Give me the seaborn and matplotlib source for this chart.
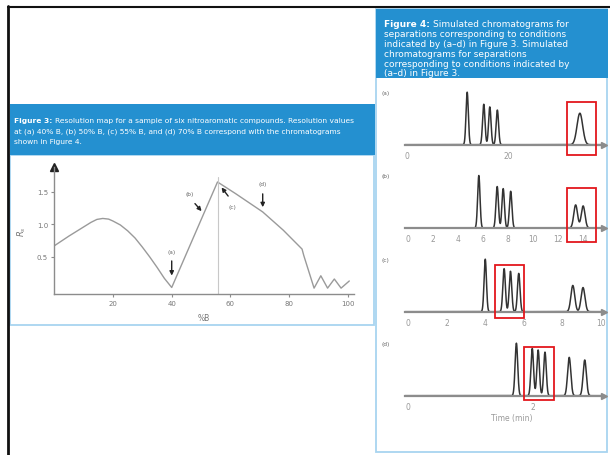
import numpy as np
import pandas as pd
import matplotlib
matplotlib.use('Agg')
import matplotlib.pyplot as plt
import seaborn as sns
from matplotlib.patches import Rectangle
from matplotlib.lines import Line2D

# Figure 3 - resolution map (Rs against %B)
pct_b = [0, 5, 10, 12.5, 14.5, 16.5, 18.5, 20, 22.5, 25, 27.5, 30, 32.5, 35, 37.5, 40,
         55.6, 61.8, 71, 78, 84.4, 85, 88.5, 90.8, 93.1, 95.4, 97.7, 100.5]
rs = [0.67, 0.82, 0.96, 1.03, 1.075, 1.09, 1.08, 1.05, 0.99, 0.9, 0.79, 0.65, 0.5, 0.34, 0.17, 0.03,
      1.65, 1.47, 1.19, 0.91, 0.62, 0.52, 0.02, 0.21, 0.02, 0.16, 0.02, 0.13]
rs_ticks = [0.5, 1.0, 1.5]
pct_ticks = [20, 40, 60, 80, 100]
marked_labels = ['(a)', '(b)', '(c)', '(d)']
optimum_b = 55.6

# Figure 4 - simulated chromatograms: retention time, relative height, peak width (sigma)
chrom_names = ['(a)', '(b)', '(c)', '(d)']
peak_times = [
    [11.9, 15.2, 16.4, 17.9, 34.3],
    [5.65, 7.12, 7.6, 8.2, 13.4, 14.0],
    [4.0, 4.98, 5.31, 5.74, 8.55, 9.08],
    [1.74, 1.995, 2.09, 2.2, 2.59, 2.84],
]
peak_heights = [
    [1.0, 0.77, 0.72, 0.66, 0.60],
    [1.0, 0.79, 0.75, 0.70, 0.44, 0.42],
    [1.0, 0.82, 0.77, 0.73, 0.50, 0.46],
    [1.0, 0.90, 0.87, 0.83, 0.73, 0.68],
]
peak_sigmas = [
    [0.23, 0.24, 0.24, 0.24, 0.56],
    [0.095, 0.1, 0.1, 0.1, 0.15, 0.15],
    [0.062, 0.066, 0.066, 0.066, 0.1, 0.1],
    [0.021, 0.021, 0.021, 0.021, 0.026, 0.026],
]
chrom_ticks = [[0, 10, 20, 30], list(range(0, 16)), list(range(0, 11)), [0, 1, 2, 3]]
chrom_ticklabels = [['0', '', '20', ''],
                    [str(t) if t % 2 == 0 else '' for t in range(0, 16)],
                    [str(t) if t % 2 == 0 else '' for t in range(0, 11)],
                    ['0', '', '2', '']]

fig3_lines = [('Figure 3:', 'Resolution map for a sample of six nitroaromatic compounds. Resolution values'),
              ('', 'at (a) 40% B, (b) 50% B, (c) 55% B, and (d) 70% B correspond with the chromatograms'),
              ('', 'shown in Figure 4.')]
fig4_lines = [('Figure 4:', 'Simulated chromatograms for'),
              ('', 'separations corresponding to conditions'),
              ('', 'indicated by (a\u2013d) in Figure 3. Simulated'),
              ('', 'chromatograms for separations'),
              ('', 'corresponding to conditions indicated by'),
              ('', '(a\u2013d) in Figure 3.')]

sns.set_style('white')
plt.rcParams['font.family'] = ['DejaVu Sans']

W, H = 610, 456
fig = plt.figure(figsize=(W / 100, H / 100), dpi=100)
renderer = fig.canvas.get_renderer()


def box(x0, y0, x1, y1):
    return [x0 / W, 1 - y1 / H, (x1 - x0) / W, (y1 - y0) / H]


def rect(x0, y0, x1, y1, **kw):
    r = Rectangle((x0 / W, 1 - y1 / H), (x1 - x0) / W, (y1 - y0) / H,
                  transform=fig.transFigure, zorder=-5, **kw)
    fig.add_artist(r)


def header_line(x, y, bold, rest, size):
    xr = x
    if bold:
        t = fig.text(x / W, 1 - y / H, bold, color='white', fontsize=size, fontweight='bold', va='center')
        xr = t.get_window_extent(renderer).x1 + size * 0.5
    fig.text(xr / W, 1 - y / H, rest, color='white', fontsize=size, va='center')


blue = '#2490d0'
light = '#a8d4f0'

# page frame and panels
rect(10, 156, 374, 326, facecolor='white', edgecolor=light, lw=1.3)
rect(10, 105, 375, 156, facecolor=blue, edgecolor='none')
rect(376, 10, 607, 453, facecolor='white', edgecolor=light, lw=1.3)
rect(376, 10, 608, 79, facecolor=blue, edgecolor='none')
fig.add_artist(Line2D([8 / W, 1], [1 - 7.5 / H] * 2, color='#111', lw=1.5, transform=fig.transFigure))
fig.add_artist(Line2D([8.3 / W] * 2, [0, 1 - 7 / H], color='#111', lw=2, transform=fig.transFigure))

for i, (bold, rest) in enumerate(fig3_lines):
    header_line(14, 121 + i * 10.3, bold, rest, 5.4)
for i, (bold, rest) in enumerate(fig4_lines):
    header_line(384, 24.5 + i * 9.9, bold, rest, 6.5)

# ---- Figure 3 resolution map ----
ax = fig.add_axes(box(54.3, 168, 353.7, 295))
ax.set_facecolor('none')
res = pd.DataFrame({'pct': pct_b, 'rs': rs})
sns.lineplot(data=res, x='pct', y='rs', ax=ax, color='#9a9a9a', lw=1.0, sort=False, estimator=None)
ax.set_xlim(0, 102)
ax.set_ylim(-0.07, 1.88)
ax.axvline(optimum_b, ymin=0, ymax=(1.72 + 0.07) / 1.95, color='#c8c8c8', lw=0.8)
for s in ['top', 'right']:
    ax.spines[s].set_visible(False)
for s in ['left', 'bottom']:
    ax.spines[s].set_color('#8c8c8c')
    ax.spines[s].set_linewidth(1.0)
ax.plot(0, 1, marker='^', color='#222', markersize=6, transform=ax.transAxes, clip_on=False)
ax.set_xticks(pct_ticks)
ax.set_yticks(rs_ticks)
ax.set_yticklabels(['0.5', '1.0', '1.5'])
ax.tick_params(axis='both', colors='#8c8c8c', labelcolor='#777', labelsize=5, length=2.5, width=0.8,
               direction='out', left=True, bottom=True, pad=2)
ax.set_xlabel('%B', fontsize=5.5, color='#777', labelpad=5)
ax.set_ylabel('$R_s$', fontsize=6, color='#777', labelpad=6)

arrows = [((40, 0.48), (40, 0.17), (40, 0.58)),
          ((47.3, 1.35), (50.8, 1.17), (46.1, 1.48)),
          ((59.8, 1.40), (56.4, 1.60), (60.6, 1.28)),
          ((71, 1.51), (71, 1.22), (71, 1.62))]
for lab, (tail, tip, txt) in zip(marked_labels, arrows):
    ax.annotate('', xy=tip, xytext=tail,
                arrowprops=dict(arrowstyle='-|>', color='#222', lw=1.0, mutation_scale=6))
    ax.text(txt[0], txt[1], lab, fontsize=4.2, color='#666', ha='center', va='center')

# ---- Figure 4 chromatograms ----
baselines = [145.7, 229, 312.7, 396.7]
xlims = [(-0.46, 39.1), (-0.26, 15.67), (-0.17, 10.17), (-0.053, 3.15)]
red_boxes = [(31.8, 37.6, -0.19, 0.82), (12.73, 15.04, -0.26, 0.76),
             (4.53, 6.03, -0.12, 0.89), (1.86, 2.34, -0.08, 0.93)]
unit = 52.5
for k in range(4):
    b = baselines[k]
    cax = fig.add_axes(box(405, b - 1.1 * unit, 604, b + 0.08 * unit))
    cax.set_facecolor('none')
    t = np.linspace(xlims[k][0], xlims[k][1], 3000)
    sig = np.zeros_like(t)
    for tr, h, s in zip(peak_times[k], peak_heights[k], peak_sigmas[k]):
        sig += h * np.exp(-(t - tr) ** 2 / (2 * s ** 2))
    sns.lineplot(x=t, y=sig, ax=cax, color='#333', lw=1.1, estimator=None)
    cax.set_xlim(*xlims[k])
    cax.set_ylim(-0.08, 1.1)
    for s in ['top', 'right', 'left']:
        cax.spines[s].set_visible(False)
    cax.spines['bottom'].set_position(('data', 0))
    cax.spines['bottom'].set_color('#8c8c8c')
    cax.spines['bottom'].set_linewidth(1.6)
    cax.set_yticks([])
    cax.set_xticks(chrom_ticks[k])
    cax.set_xticklabels(chrom_ticklabels[k])
    cax.tick_params(axis='x', colors='#666', labelcolor='#999', labelsize=5.5, length=3, width=1,
                    direction='inout', pad=3)
    cax.plot(1, 0, marker='>', color='#8c8c8c', markersize=4, transform=cax.get_yaxis_transform(),
             clip_on=False)
    x0, x1, y0, y1 = red_boxes[k]
    cax.add_patch(Rectangle((x0, y0), x1 - x0, y1 - y0, fill=False, edgecolor='#e3171c', lw=1.3,
                            clip_on=False, zorder=5))
    fig.text(382 / W, 1 - (b - 52.5) / H, chrom_names[k], fontsize=4.2, color='#666', va='center')

fig.text(512 / W, 1 - 418.5 / H, 'Time (min)', fontsize=5.5, color='#999', ha='center', va='center')

fig.savefig('out.png', dpi=100)
